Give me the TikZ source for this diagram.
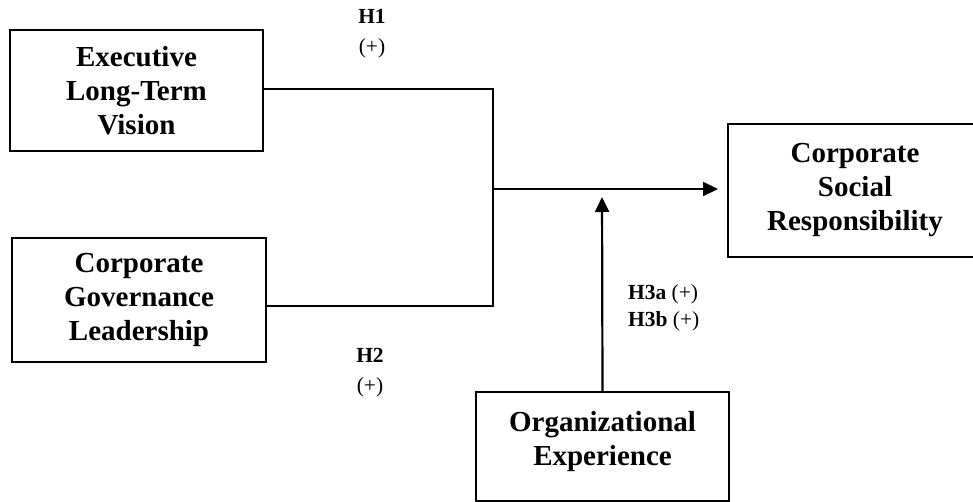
\documentclass[tikz,border=0pt]{standalone}
\usepackage{fontspec}
\setmainfont{Liberation Serif}
\usetikzlibrary{positioning,arrows.meta}

\begin{document}
\begin{tikzpicture}[x=1pt,y=-1pt,
  %%Estilos
  line width=2.2pt,
  varbox/.style = {draw, rectangle, line width=2pt, inner sep=0pt, align=center,
    font=\fontsize{29}{34}\selectfont\bfseries},
  hyp/.style    = {inner sep=0pt, align=center, font=\fontsize{21.5}{30}\selectfont},
  flecha/.style = {-{Triangle[length=15pt,width=14pt]}}
]
\useasboundingbox (0,0) rectangle (973,502);
  %%Nodos
\node[varbox, minimum width=253pt, minimum height=121pt] (vision) at (136.5,90.5)
  {Executive\\Long-Term\\Vision};
\node[varbox, minimum width=254pt, minimum height=124pt] (governance) at (139,300)
  {Corporate\\Governance\\Leadership};
\node[varbox, minimum width=254pt, minimum height=133pt] (csr) at (855,190.5)
  {Corporate\\Social\\Responsibility};
\node[varbox, minimum width=253pt, minimum height=109pt,
  label={[varbox, draw=none, anchor=north, yshift=-19pt]north:Organizational\\Experience}]
  (experience) at (602.5,446.5) {};

\coordinate (join) at (493,189);
\coordinate (moderation) at (602,189);

  %%Hipotesis
\node[hyp] (h1) at (372,34) {\textbf{H1}\\(+)};
\node[hyp] (h2) at (370,373) {\textbf{H2}\\(+)};
\node[hyp, align=left, anchor=west, font=\fontsize{21.5}{27}\selectfont] (h3) at (627,307.5)
  {\textbf{H3a} (+)\\\textbf{H3b} (+)};

  %%Conectores
\draw (vision.east |- 0,89) -| (join);
\draw (governance.east |- 0,306) -| (join);
\draw[flecha, shorten >=9pt] (join) -- (csr.west |- join);
\draw[flecha, shorten >=8pt] (experience.north) -- (moderation);
\end{tikzpicture}
\end{document}
